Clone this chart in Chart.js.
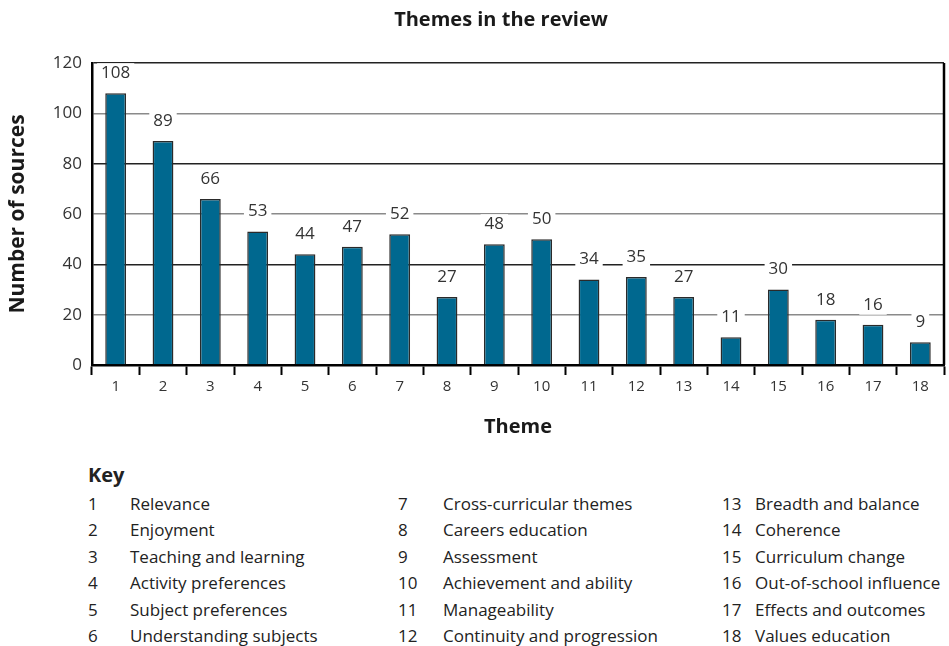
<!DOCTYPE html>
<html>
<head>
<meta charset="utf-8">
<script src="https://cdn.jsdelivr.net/npm/chart.js@4"></script>
<style>
    body { margin: 0; background: #fff; font-family: "Open Sans", sans-serif; color: #222; }
    #wrap { position: relative; width: 949px; height: 646px; }
    #chartBox { position: absolute; left: 0; top: 0; width: 949px; height: 450px; }
    .key-title { position: absolute; left: 88px; top: 462px; font-size: 20px; font-weight: bold; line-height: 26px; }
    .key-row { position: absolute; font-size: 17px; line-height: 20px; white-space: nowrap; }
    .key-row .num { display: inline-block; }
</style>
</head>
<body>
<div id="wrap">
    <div id="chartBox"><canvas id="themeChart"></canvas></div>
    <div class="key-title">Key</div>
    <div id="key"></div>
</div>
<script>
// Data
const themes = ['1', '2', '3', '4', '5', '6', '7', '8', '9', '10', '11', '12', '13', '14', '15', '16', '17', '18'];
const sources = [108, 89, 66, 53, 44, 47, 52, 27, 48, 50, 34, 35, 27, 11, 30, 18, 16, 9];
const yTicks = [0, 20, 40, 60, 80, 100, 120];
const themeNames = [
    'Relevance', 'Enjoyment', 'Teaching and learning', 'Activity preferences',
    'Subject preferences', 'Understanding subjects', 'Cross-curricular themes',
    'Careers education', 'Assessment', 'Achievement and ability', 'Manageability',
    'Continuity and progression', 'Breadth and balance', 'Coherence',
    'Curriculum change', 'Out-of-school influence', 'Effects and outcomes', 'Values education'
];

// Key (three columns of six)
const keyCols = [{ num: 88, text: 130 }, { num: 398, text: 443 }, { num: 722, text: 755 }];
const keyEl = document.getElementById('key');
themeNames.forEach((name, i) => {
    const col = keyCols[Math.floor(i / 6)];
    const row = i % 6;
    const div = document.createElement('div');
    div.className = 'key-row';
    div.style.left = col.num + 'px';
    div.style.top = (494 + row * 26.4) + 'px';
    div.innerHTML = `<span class="num" style="width:${col.text - col.num}px">${i + 1}</span>${name}`;
    keyEl.appendChild(div);
});

// Title, value labels and right border
const extras = {
    id: 'extras',
    afterDatasetsDraw(chart) {
        const ctx = chart.ctx;
        const meta = chart.getDatasetMeta(0);
        ctx.save();
        ctx.font = '17px "Open Sans"';
        ctx.textAlign = 'center';
        ctx.textBaseline = 'middle';
        meta.data.forEach((bar, i) => {
            const txt = String(sources[i]);
            const w = ctx.measureText(txt).width + 8;
            const y = bar.y - 20;
            ctx.fillStyle = '#fff';
            ctx.fillRect(bar.x - w / 2, y - 10, w, 20);
            ctx.fillStyle = '#333';
            ctx.fillText(txt, bar.x, y);
        });
        ctx.restore();
    },
    afterDraw(chart) {
        const ctx = chart.ctx;
        const a = chart.chartArea;
        ctx.save();
        ctx.strokeStyle = '#000';
        ctx.lineWidth = 2.5;
        ctx.beginPath();
        ctx.moveTo(a.right, a.top);
        ctx.lineTo(a.right, a.bottom);
        ctx.stroke();
        ctx.fillStyle = '#1a1a1a';
        ctx.font = 'bold 20px "Open Sans"';
        ctx.textAlign = 'center';
        ctx.textBaseline = 'middle';
        ctx.fillText('Themes in the review', 501, 20);
        ctx.restore();
    }
};

new Chart(document.getElementById('themeChart'), {
    type: 'bar',
    data: {
        labels: themes,
        datasets: [{
            data: sources,
            backgroundColor: '#00688f',
            borderColor: '#2a2a2a',
            borderWidth: 1.5,
            categoryPercentage: 1,
            barPercentage: 0.44
        }]
    },
    options: {
        responsive: true,
        maintainAspectRatio: false,
        animation: false,
        layout: { padding: { top: 63, right: 5, bottom: 7, left: 0 } },
        plugins: {
            legend: { display: false },
            title: { display: false },
            tooltip: { enabled: false }
        },
        scales: {
            x: {
                offset: true,
                grid: { offset: true, drawOnChartArea: false, drawTicks: true, tickLength: 10, tickWidth: 2, tickColor: '#000' },
                border: { color: '#000', width: 2.5 },
                ticks: { color: '#333', font: { family: 'Open Sans', size: 15 }, padding: 3, maxRotation: 0 },
                title: { display: true, text: 'Theme', color: '#1a1a1a', font: { family: 'Open Sans', size: 20, weight: 'bold' }, padding: { top: 19, bottom: 4 } },
                afterFit(scale) { scale.height = 78; }
            },
            y: {
                min: 0,
                max: 120,
                afterBuildTicks(scale) { scale.ticks = yTicks.map(v => ({ value: v })); },
                grid: {
                    drawTicks: false,
                    color: ctx => (ctx.tick && ctx.tick.value % 40 === 0 ? '#222' : '#8a8a8a'),
                    lineWidth: 1.5
                },
                border: { color: '#000', width: 2.5 },
                ticks: { color: '#333', font: { family: 'Open Sans', size: 17 }, padding: 10 },
                title: { display: true, text: 'Number of sources', color: '#1a1a1a', font: { family: 'Open Sans', size: 21, weight: 'bold' }, padding: { top: 5, bottom: 0 } },
                afterFit(scale) { scale.width = 92; }
            }
        }
    },
    plugins: [extras]
});
</script>
</body>
</html>
